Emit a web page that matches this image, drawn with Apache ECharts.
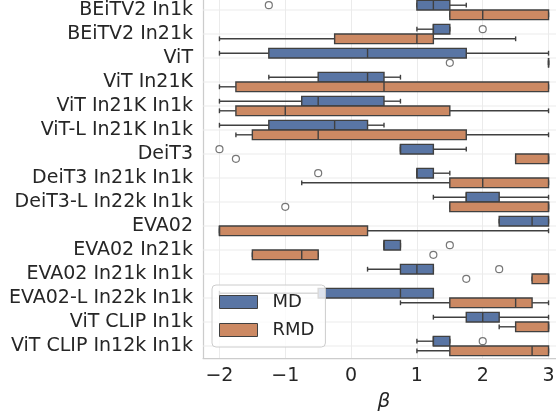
<!DOCTYPE html>
<html>
<head>
<meta charset="utf-8">
<script src="https://cdn.jsdelivr.net/npm/echarts@6/dist/echarts.min.js"></script>
<style>
  html, body { margin: 0; padding: 0; background: #fff; }
  #chart { width: 556px; height: 413px; }
</style>
</head>
<body>
<div id="chart"></div>
<script>
// 类别（从上到下）
var categories = [
  'BEiTV2 In1k', 'BEiTV2 In21k', 'ViT', 'ViT In21K', 'ViT In21K In1k',
  'ViT-L In21K In1k', 'DeiT3', 'DeiT3 In21k In1k', 'DeiT3-L In22k In1k', 'EVA02',
  'EVA02 In21k', 'EVA02 In21k In1k', 'EVA02-L In22k In1k', 'ViT CLIP In1k', 'ViT CLIP In12k In1k'
];

// [whisker low, q1, median, q3, whisker high]
var mdBoxes = [
  [1.0, 1.0, 1.25, 1.5, 1.75],
  [1.0, 1.25, 1.25, 1.5, 1.5],
  [-2.0, -1.25, 0.25, 1.75, 3.0],
  [-1.25, -0.5, 0.25, 0.5, 0.75],
  [-2.0, -0.75, -0.5, 0.5, 0.75],
  [-2.0, -1.25, -0.25, 0.25, 0.5],
  [0.75, 0.75, 0.75, 1.25, 1.75],
  [1.0, 1.0, 1.0, 1.25, 1.5],
  [1.25, 1.75, 1.75, 2.25, 3.0],
  [2.25, 2.25, 2.75, 3.0, 3.0],
  [0.5, 0.5, 0.5, 0.75, 0.75],
  [0.25, 0.75, 1.0, 1.25, 1.25],
  [-2.0, -0.5, 0.75, 1.25, 1.25],
  [1.25, 1.75, 2.0, 2.25, 3.0],
  [1.0, 1.25, 1.25, 1.5, 1.5]
];
var rmdBoxes = [
  [1.5, 1.5, 2.0, 3.0, 3.0],
  [-2.0, -0.25, 1.0, 1.25, 2.5],
  [3.0, 3.0, 3.0, 3.0, 3.0],
  [-2.0, -1.75, 0.5, 3.0, 3.0],
  [-2.0, -1.75, -1.0, 1.5, 3.0],
  [-1.75, -1.5, -0.5, 1.75, 3.0],
  [2.5, 2.5, 3.0, 3.0, 3.0],
  [-0.75, 1.5, 2.0, 3.0, 3.0],
  [1.5, 1.5, 3.0, 3.0, 3.0],
  [-2.0, -2.0, -2.0, 0.25, 3.0],
  [-1.5, -1.5, -0.75, -0.5, -0.5],
  [2.75, 2.75, 3.0, 3.0, 3.0],
  [0.75, 1.5, 2.5, 2.75, 3.0],
  [2.25, 2.5, 3.0, 3.0, 3.0],
  [1.0, 1.5, 2.75, 3.0, 3.0]
];

// 离群点 [value, category index]
var mdOutliers = [[-1.25, 0], [2.0, 1], [-2.0, 6], [-0.5, 7], [1.5, 10], [2.25, 11], [2.0, 14]];
var rmdOutliers = [[1.5, 2], [-1.75, 6], [-1.0, 8], [1.25, 10], [1.75, 11]];

var xTicks = [-2, -1, 0, 1, 2, 3];

var MD_COLOR = '#5975a4';
var RMD_COLOR = '#cc8963';
var EDGE = '#404040';
var FONT = 'DejaVu Sans';
var TEXT = '#262626';

function toItems(boxes) {
  return boxes.map(function (b, i) { return [i].concat(b); });
}

function boxRenderer(offset, color) {
  return function (params, api) {
    var idx = api.value(0);
    var band = api.size([0, 1])[1];
    var cy = api.coord([0, idx])[1] + offset * band;
    var h = band * 0.4;
    var cap = h * 0.5;
    var x = [1, 2, 3, 4, 5].map(function (d) { return api.coord([api.value(d), idx])[0]; });
    var lineStyle = { stroke: EDGE, lineWidth: 1.4 };
    return {
      type: 'group',
      children: [
        { type: 'line', shape: { x1: x[0], y1: cy, x2: x[1], y2: cy }, style: lineStyle },
        { type: 'line', shape: { x1: x[3], y1: cy, x2: x[4], y2: cy }, style: lineStyle },
        { type: 'line', shape: { x1: x[0], y1: cy - cap / 2, x2: x[0], y2: cy + cap / 2 }, style: lineStyle },
        { type: 'line', shape: { x1: x[4], y1: cy - cap / 2, x2: x[4], y2: cy + cap / 2 }, style: lineStyle },
        { type: 'rect', shape: { x: x[1], y: cy - h / 2, width: x[3] - x[1], height: h },
          style: { fill: color, stroke: EDGE, lineWidth: 1.4 } },
        { type: 'line', shape: { x1: x[2], y1: cy - h / 2, x2: x[2], y2: cy + h / 2 }, style: lineStyle }
      ]
    };
  };
}

var chart = echarts.init(document.getElementById('chart'));

var option = {
  animation: false,
  grid: { left: 203, right: -9, top: -2, bottom: 55, outerBoundsMode: 'none' },
  legend: {
    orient: 'vertical',
    left: 212,
    top: 285,
    padding: [8, 11, 8, 7],
    itemWidth: 38,
    itemHeight: 13,
    itemGap: 10,
    backgroundColor: 'rgba(255,255,255,0.8)',
    borderColor: '#cccccc',
    borderWidth: 1,
    borderRadius: 4,
    textStyle: { fontSize: 18, color: TEXT, fontFamily: FONT, padding: [0, 0, 0, 10] },
    data: [
      { name: 'MD', icon: 'rect', itemStyle: { color: MD_COLOR, borderColor: EDGE, borderWidth: 1 } },
      { name: 'RMD', icon: 'rect', itemStyle: { color: RMD_COLOR, borderColor: EDGE, borderWidth: 1 } }
    ]
  },
  xAxis: {
    type: 'value',
    min: -2.25,
    max: 3.25,
    name: 'β',
    nameLocation: 'middle',
    nameGap: 34,
    nameTextStyle: { fontSize: 20, fontStyle: 'italic', color: TEXT, fontFamily: FONT },
    axisLine: { show: true, lineStyle: { color: '#cccccc', width: 1.25 } },
    axisTick: { show: false, customValues: xTicks },
    axisLabel: {
      customValues: xTicks,
      fontSize: 19,
      color: TEXT,
      fontFamily: FONT,
      margin: 9,
      formatter: function (v) { return String(v).replace('-', '\u2212'); }
    },
    splitLine: { show: true, lineStyle: { color: '#ebebeb', width: 1 } }
  },
  yAxis: {
    type: 'category',
    data: categories,
    inverse: true,
    axisLine: { show: true, onZero: false, lineStyle: { color: '#cccccc', width: 1.25 } },
    axisTick: { show: false },
    splitLine: { show: false },
    axisLabel: { interval: 0, fontSize: 19, color: TEXT, fontFamily: FONT, margin: 10 }
  },
  series: [
    {
      name: 'grid',
      type: 'custom',
      silent: true,
      z: 1,
      data: categories.map(function (c, i) { return [0, i]; }),
      encode: { x: 0, y: 1 },
      renderItem: function (params, api) {
        var cs = params.coordSys;
        var y = api.coord([0, api.value(1)])[1];
        return {
          type: 'line',
          shape: { x1: cs.x, y1: y, x2: cs.x + cs.width, y2: y },
          style: { stroke: '#ebebeb', lineWidth: 1 }
        };
      }
    },
    {
      name: 'MD',
      type: 'custom',
      z: 2,
      itemStyle: { color: MD_COLOR },
      data: toItems(mdBoxes),
      encode: { x: [1, 2, 3, 4, 5], y: 0 },
      renderItem: boxRenderer(-0.2, MD_COLOR)
    },
    {
      name: 'RMD',
      type: 'custom',
      z: 2,
      itemStyle: { color: RMD_COLOR },
      data: toItems(rmdBoxes),
      encode: { x: [1, 2, 3, 4, 5], y: 0 },
      renderItem: boxRenderer(0.2, RMD_COLOR)
    },
    {
      name: 'MD outliers',
      type: 'scatter',
      z: 3,
      symbol: 'circle',
      symbolSize: 7,
      symbolOffset: [0, -4.8],
      itemStyle: { color: '#ffffff', borderColor: '#555555', borderWidth: 1.2 },
      data: mdOutliers
    },
    {
      name: 'RMD outliers',
      type: 'scatter',
      z: 3,
      symbol: 'circle',
      symbolSize: 7,
      symbolOffset: [0, 4.8],
      itemStyle: { color: '#ffffff', borderColor: '#555555', borderWidth: 1.2 },
      data: rmdOutliers
    }
  ]
};

chart.setOption(option);
</script>
</body>
</html>
